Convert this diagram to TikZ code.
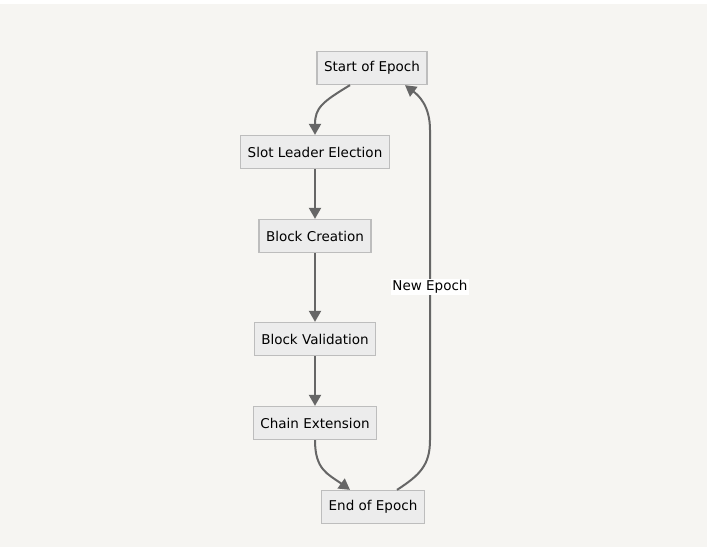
\documentclass[tikz,border=0pt]{standalone}
\usepackage{fontspec}
\setmainfont{DejaVu Sans}
\usepackage{tikz}
\usetikzlibrary{arrows.meta}

\definecolor{bgcol}{HTML}{F6F5F2}
\definecolor{boxfill}{HTML}{ECECEC}
\definecolor{boxline}{HTML}{BDBDBD}
\definecolor{edgecol}{HTML}{666666}

\tikzset{
    stage/.style={draw=boxline, fill=boxfill, line width=1.3pt, minimum height=33pt,
        inner xsep=7pt, font=\fontsize{13.5}{15}\selectfont},
    flow/.style={draw=edgecol, line width=2pt, -{Triangle[length=11pt,width=12pt]}}
}

\begin{document}
\begin{tikzpicture}[x=1pt, y=-1pt]
    % background
    \useasboundingbox (0,0) rectangle (710,550);
    \fill[bgcol] (0,4) rectangle (707,547);

    % the stages
    \node[stage] (start) at (372,68) {Start of Epoch};
    \node[stage] (slot) at (315,152) {Slot Leader Election};
    \node[stage] (create) at (315,236) {Block Creation};
    \node[stage] (valid) at (315,339) {Block Validation};
    \node[stage] (chain) at (315,423) {Chain Extension};
    \node[stage] (end) at (373,507) {End of Epoch};

    % connectors
    \draw[flow] ([xshift=-22pt]start.south) .. controls (322,102) and (315,108) .. (slot.north);
    \draw[flow] (slot) -- (create);
    \draw[flow] (create) -- (valid);
    \draw[flow] (valid) -- (chain);
    \draw[flow] (chain.south) .. controls (315,470) and (328,474) .. ([xshift=-23pt]end.north);
    \draw[flow] ([xshift=24pt]end.north) .. controls (420,475) and (430,465) .. (430,440)
        -- (430,130) .. controls (430,105) and (418,95) .. ([xshift=33pt]start.south);
    \node[fill=white, inner sep=1pt, font=\fontsize{13.5}{15}\selectfont] (newep) at (430,287) {New Epoch};
\end{tikzpicture}
\end{document}
